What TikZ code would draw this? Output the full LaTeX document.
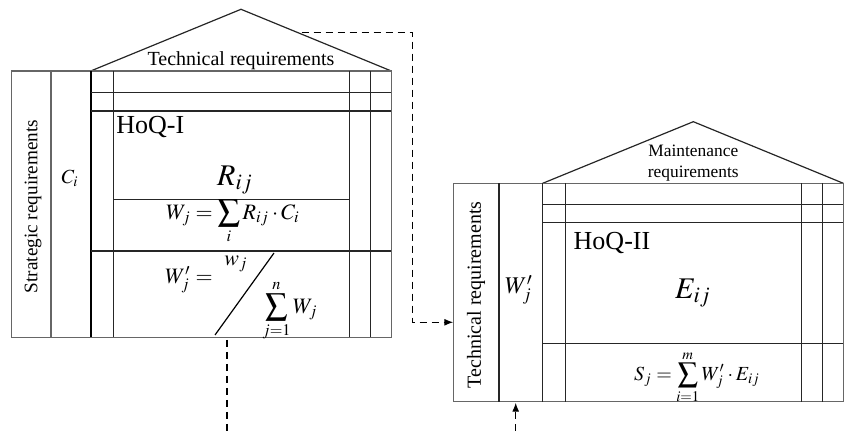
\documentclass[tikz,border=0pt]{standalone}
\usepackage{mathptmx}
\usepackage[no-math]{fontspec}
\setmainfont{Liberation Serif}
\usetikzlibrary{arrows.meta}

\begin{document}
\begin{tikzpicture}[x=0.5pt,y=-0.5pt,
  rule/.style={draw=black!85,line width=0.6pt},
  faint/.style={draw=black!60,line width=0.6pt},
  flow/.style={draw=black,line width=0.6pt,dash pattern=on 3.5pt off 2.5pt},
  tip/.style={-{Latex[length=4.5pt,width=3.5pt]}},
  txt/.style={inner sep=0pt,font=\fontsize{10}{11}\selectfont}]
\useasboundingbox (0,0) rectangle (845,431);
% HoQ-I
\draw[rule] (90.7,71) -- (241,9.3) -- (391.3,71);
\draw[faint] (11.7,71) rectangle (391.3,337.3);
\draw[faint] (51,71) -- (51,337.3);
\draw[black,line width=1.2pt] (90.7,71) -- (90.7,337.3);
\foreach \x in {113.3,349.3,370.3} \draw[rule] (\x,71) -- (\x,337.3);
\foreach \y in {92.3,111,251} \draw[rule] (90.7,\y) -- (391.3,\y);
\draw[rule] (113.3,199.3) -- (349.3,199.3);
\draw[black,line width=0.6pt] (215,335) -- (274,253);
\node[txt] (techA) at (241,60.7) {Technical requirements};
\node[txt,rotate=90,font=\fontsize{9.6}{11}\selectfont] (stratA) at (33,206.5) {Strategic requirements};
\node[txt] (ciA) at (70,178.3) {$C_i$};
\node[txt,anchor=west,font=\fontsize{13}{15}\selectfont] (hoqA) at (116,127.3) {HoQ-I};
\node[txt,font=\fontsize{15}{17}\selectfont] (rA) at (235,180) {$R_{ij}$};
\node[txt,font=\fontsize{11}{13}\selectfont] (wA) at (233,222) {$\displaystyle W_j=\sum_i R_{ij}\cdot C_i$};
\node[txt,font=\fontsize{11}{13}\selectfont] (wpA) at (189,280) {$W'_j=$};
\node[txt,font=\fontsize{11}{13}\selectfont] (wnA) at (236,264) {$w_j$};
\node[txt,font=\fontsize{11}{13}\selectfont] (wdA) at (290,311) {$\displaystyle\sum_{j=1}^{n}W_j$};
% HoQ-II
\draw[rule] (542.7,183.3) -- (693.3,121.7) -- (843.3,183.3);
\draw[faint] (453.3,183.3) rectangle (843.3,401.7);
\foreach \x in {499,542.7,565.7,801.7,822.7} \draw[rule] (\x,183.3) -- (\x,401.7);
\foreach \y in {204.3,222.7,343.3} \draw[rule] (542.7,\y) -- (843.3,\y);
\node[txt,align=center,font=\fontsize{8.7}{10.2}\selectfont] (maintB) at (693.3,163) {Maintenance\\requirements};
\node[txt,rotate=90] (techB) at (476,295) {Technical requirements};
\node[txt,font=\fontsize{12}{14}\selectfont] (wB) at (519,290) {$W'_j$};
\node[txt,anchor=west,font=\fontsize{13}{15}\selectfont] (hoqB) at (573.3,242.7) {HoQ-II};
\node[txt,font=\fontsize{15}{17}\selectfont] (eB) at (693,293) {$E_{ij}$};
\node[txt,font=\fontsize{10}{12}\selectfont] (sB) at (697,377) {$\displaystyle S_j=\sum_{i=1}^{m}W'_j\cdot E_{ij}$};
% links
\coordinate (roofA) at (301.7,32.3);
\coordinate (bendA) at (412.3,32.3);
\coordinate (inB) at (453.3,322.3);
\draw[flow,tip] (roofA) -- (bendA) |- (inB);
\coordinate (outA) at (227,340);
\coordinate (downA) at (227,431);
\draw[flow] (outA) -- (downA);
\coordinate (upB) at (515.7,431);
\coordinate (inB2) at (515.7,402.7);
\draw[flow,tip] (upB) -- (inB2);
\end{tikzpicture}
\end{document}
